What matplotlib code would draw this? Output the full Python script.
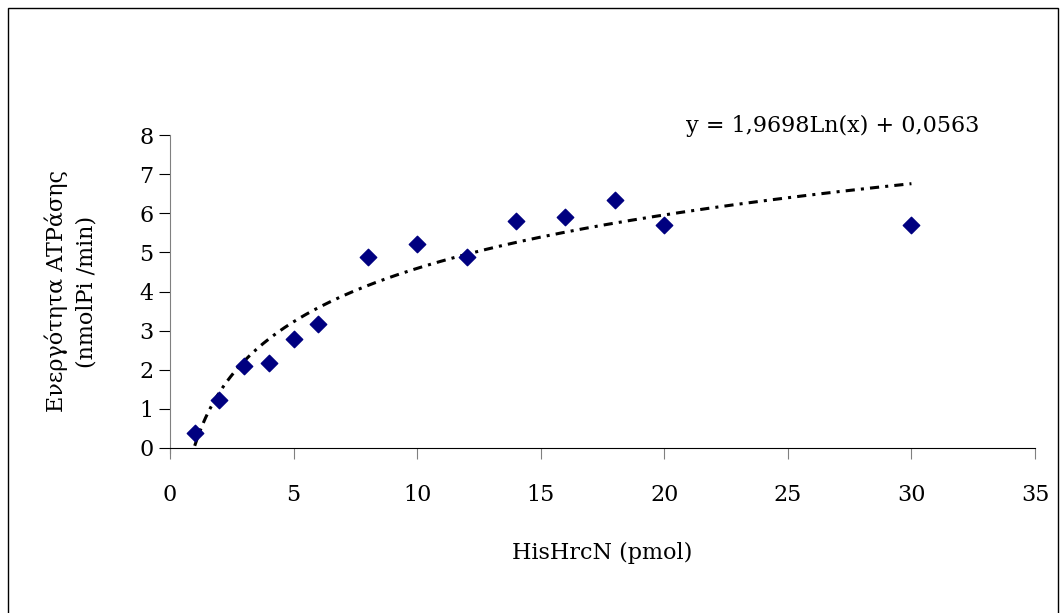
import numpy as np
import matplotlib
matplotlib.use("Agg")
import matplotlib.pyplot as plt
from matplotlib.patches import Rectangle

# HisHrcN amount (pmol) and ATPase activity (nmolPi/min)
hisHrcN = [1, 2, 3, 4, 5, 6, 8, 10, 12, 14, 16, 18, 20, 30]
activity = [0.38, 1.23, 2.1, 2.17, 2.79, 3.17, 4.88, 5.22, 4.88, 5.81, 5.91, 6.34, 5.70, 5.70]

# logarithmic trendline coefficients, as printed on the chart
slope = 1.9698
intercept = 0.0563

xTicks = [0, 5, 10, 15, 20, 25, 30, 35]
yTicks = [0, 1, 2, 3, 4, 5, 6, 7, 8]

plt.rcParams['font.family'] = ['DejaVu Serif']

fig = plt.figure(figsize=(10.62, 6.13), dpi=100)
fig.patches.append(Rectangle((8/1062, -0.1), 1050/1062, 1.1 - 8/613,
                             transform=fig.transFigure, fill=False,
                             edgecolor='black', linewidth=1.0))

ax = fig.add_axes([170/1062, 1 - 448/613, 865/1062, 313/613])

# trendline through the data range
xFit = np.array(hisHrcN, dtype=float)
xFit = np.linspace(xFit.min(), xFit.max(), 200)
yFit = slope*np.log(xFit) + intercept
ax.plot(xFit, yFit, color='black', linewidth=2.2,
        linestyle=(0, (3, 2, 1, 2)), zorder=2)

ax.scatter(hisHrcN, activity, marker='D', s=70, color='#000080',
           edgecolors='#000080', zorder=3)

ax.set_xlim(0, 35)
ax.set_ylim(0, 8)
ax.set_xticks(xTicks)
ax.set_yticks(yTicks)
ax.tick_params(axis='both', labelsize=16, direction='out', length=8)
ax.tick_params(axis='x', colors='#808080', labelcolor='black', pad=18)
ax.tick_params(axis='y', colors='black', pad=4)

for side in ['top', 'right']:
    ax.spines[side].set_visible(False)
ax.spines['left'].set_color('#808080')
ax.spines['left'].set_bounds(-0.12, 8)
ax.spines['bottom'].set_color('black')
ax.spines['left'].set_clip_on(False)

ax.set_xlabel('HisHrcN (pmol)', fontsize=16, labelpad=26)
ax.set_ylabel('Ενεργότητα ATPάσης\n(nmolPi /min)', fontsize=16,
              linespacing=1.45, labelpad=30)

ax.text(0.597, 1.029, 'y = 1,9698Ln(x) + 0,0563', transform=ax.transAxes,
        fontsize=16, ha='left', va='center')

fig.savefig('out.png', dpi=100)
